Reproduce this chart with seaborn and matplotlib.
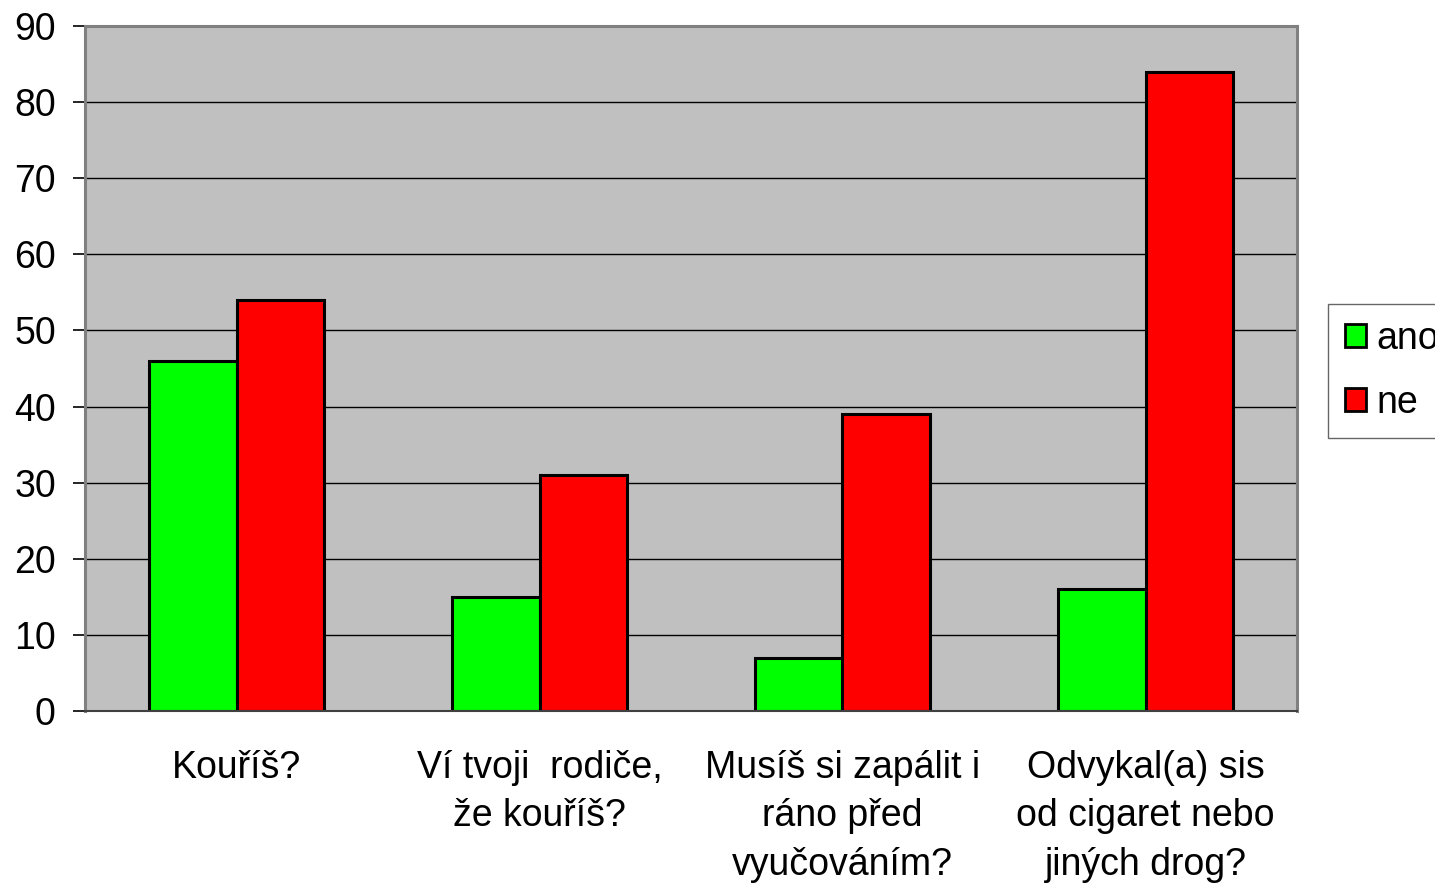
import matplotlib
matplotlib.use('Agg')
import matplotlib.pyplot as plt
import seaborn as sns
import pandas as pd
from matplotlib.patches import Patch

# ── DATA ─────────────────────────────────────────────────────────────────────
QUESTIONS = [
    "Kouříš?",
    "Ví tvoji  rodiče,\nže kouříš?",
    "Musíš si zapálit i\nráno před\nvyučováním?",
    "Odvykal(a) sis\nod cigaret nebo\njiných drog?",
]
ANO = [46, 15, 7, 16]
NE = [54, 31, 39, 84]
SERIES = ["ano", "ne"]
Y_TICKS = [0, 10, 20, 30, 40, 50, 60, 70, 80, 90]
COLORS = {"ano": "#00ff00", "ne": "#ff0000"}
# ─────────────────────────────────────────────────────────────────────────────

df = pd.DataFrame({
    "otázka": QUESTIONS * 2,
    "odpověď": ["ano"] * len(ANO) + ["ne"] * len(NE),
    "počet": ANO + NE,
})

sns.set_style("white")
plt.rcParams['font.family'] = ['Liberation Sans', 'DejaVu Sans']
plt.rcParams['text.color'] = 'black'
plt.rcParams['xtick.color'] = 'black'
plt.rcParams['ytick.color'] = 'black'

FS = 27

fig = plt.figure(figsize=(14.35, 8.92), dpi=100)
ax = fig.add_axes([85 / 1435, 1 - 711 / 892, (1297 - 85) / 1435, (711 - 26) / 892])

sns.barplot(data=df, x="otázka", y="počet", hue="odpověď", hue_order=SERIES,
            palette=COLORS, width=0.575, gap=0, edgecolor="black",
            linewidth=2.2, saturation=1, legend=False, ax=ax)

ax.set_facecolor("#c0c0c0")
ax.set_ylim(0, 90)
ax.set_xlim(-0.5, len(QUESTIONS) - 0.5)
ax.set_yticks(Y_TICKS)
ax.set_yticklabels([str(t) for t in Y_TICKS], fontsize=FS)
ax.yaxis.grid(True, color="black", linewidth=1)
ax.set_axisbelow(True)
ax.set_xlabel("")
ax.set_ylabel("")

# category labels centred, tick marks at category boundaries
ax.set_xticks(range(len(QUESTIONS)))
ax.set_xticklabels(QUESTIONS, fontsize=FS, linespacing=1.45, va="top")
ax.tick_params(axis="x", length=0, pad=28)
ax.set_xticks([i - 0.5 for i in range(len(QUESTIONS) + 1)], minor=True)
ax.tick_params(axis="x", which="minor", length=9, width=1.2, color="#404040",
               direction="out")
ax.tick_params(axis="y", length=9, width=1.2, color="black", pad=12,
               direction="out", left=True)

for side in ["left", "top", "right"]:
    ax.spines[side].set_visible(True)
    ax.spines[side].set_color("#808080")
    ax.spines[side].set_linewidth(2.2)
ax.spines["bottom"].set_color("#404040")
ax.spines["bottom"].set_linewidth(1.5)

handles = [Patch(facecolor=COLORS[s], edgecolor="black", linewidth=2, label=s)
           for s in SERIES]
leg = fig.legend(handles=handles, loc="upper left",
                 bbox_to_anchor=(1328 / 1435, 1 - 304 / 892),
                 fontsize=FS, frameon=True, fancybox=False,
                 handlelength=0.55, handleheight=0.55, handletextpad=0.3,
                 labelspacing=0.75, borderpad=0.45, borderaxespad=0)
leg.get_frame().set_edgecolor("#404040")
leg.get_frame().set_linewidth(1)

fig.savefig("out.png", dpi=100)
